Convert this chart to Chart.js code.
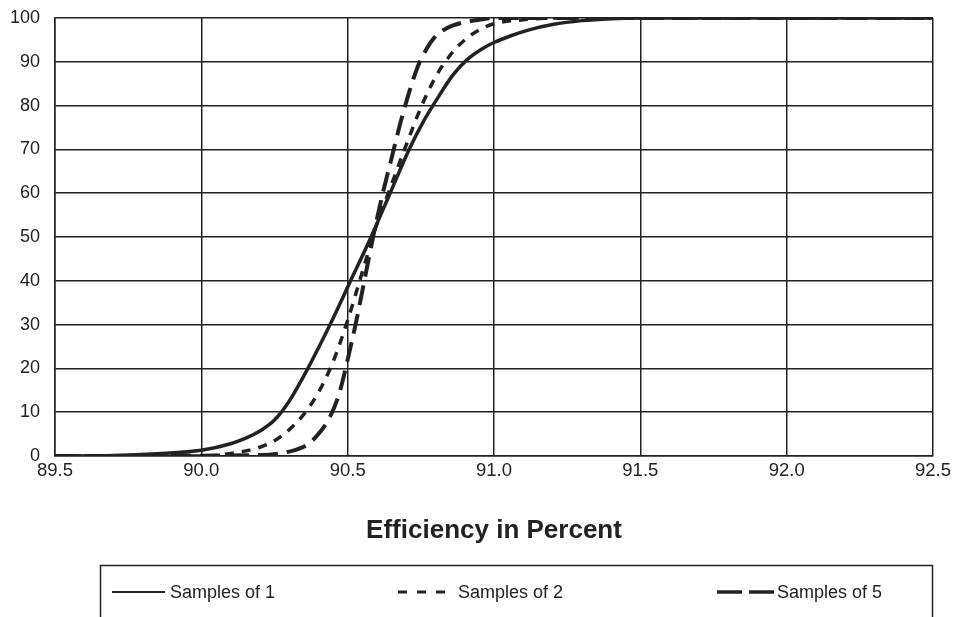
<!DOCTYPE html>
<html>
<head>
<meta charset="utf-8">
<script src="https://cdn.jsdelivr.net/npm/chart.js@4.4.0/dist/chart.umd.min.js"></script>
<style>
  html, body { margin: 0; padding: 0; background: #fff; }
  #wrap { width: 955px; height: 617px; }
</style>
</head>
<body>
<div id="wrap"><canvas id="chart-efficiency" width="955" height="617"></canvas></div>
<script>
const seriesNames = ['Samples of 1', 'Samples of 2', 'Samples of 5'];

// cumulative percent vs efficiency
const samples1X = [89.5, 89.7, 89.85, 90.0, 90.1, 90.15, 90.2, 90.25, 90.3, 90.36, 90.44, 90.51, 90.58, 90.645, 90.71, 90.76, 90.81, 90.86, 90.91, 90.96, 91.0, 91.06, 91.12, 91.2, 91.3, 91.4, 91.5, 92.5];
const samples1Y = [0, 0.1, 0.5, 1.3, 2.8, 4, 5.7, 8.2, 12.5, 19.5, 30, 40, 50, 60, 70, 76.5, 82, 87, 90.6, 93, 94.4, 96, 97.3, 98.5, 99.4, 99.85, 100, 100];

const samples2X = [89.5, 90.0, 90.1, 90.2, 90.25, 90.3, 90.35, 90.4, 90.45, 90.5, 90.55, 90.6, 90.65, 90.7, 90.75, 90.8, 90.85, 90.9, 90.95, 91.0, 91.1, 91.2, 92.5];
const samples2Y = [0, 0, 0.6, 2, 3.5, 6, 9.5, 14.5, 21.5, 31, 42, 53, 62, 71, 79.5, 86.5, 91.5, 95, 97.3, 98.7, 99.6, 100, 100];

const samples5X = [89.5, 90.2, 90.3, 90.36, 90.4, 90.44, 90.47, 90.5, 90.53, 90.56, 90.59, 90.62, 90.65, 90.68, 90.71, 90.74, 90.77, 90.8, 90.84, 90.89, 90.95, 91.0, 92.5];
const samples5Y = [0, 0.2, 1, 2.5, 5, 9, 14, 22, 31, 41, 51, 60, 68, 76, 83, 89, 93, 95.8, 97.7, 98.9, 99.6, 100, 100];

const xTickLabels = ['89.5', '90.0', '90.5', '91.0', '91.5', '92.0', '92.5'];
const yTickLabels = ['0', '10', '20', '30', '40', '50', '60', '70', '80', '90', '100'];

const ink = '#222222';
const chartDashes = [[], [9, 8], [20, 9]];
const chartWidths = [3.5, 3.5, 4];
const legendDashes = [[], [9, 10], [25, 7]];
const legendWidths = [2, 3, 3.5];

function toPoints(xs, ys) {
    return xs.map((x, i) => ({ x: x, y: ys[i] }));
}

const legendBox = {
    id: 'legendBox',
    afterDraw(chart) {
        const ctx = chart.ctx;
        ctx.save();
        ctx.strokeStyle = ink;
        ctx.lineWidth = 1.5;
        ctx.strokeRect(100.5, 565.5, 832, 90);

        const spots = [[112, 165, 170], [398, 447, 458], [717, 774, 777]];
        chart.data.datasets.forEach((ds, i) => {
            const [x0, x1, tx] = spots[i];
            ctx.beginPath();
            ctx.setLineDash(legendDashes[i]);
            ctx.lineWidth = legendWidths[i];
            ctx.strokeStyle = ink;
            ctx.moveTo(x0, 592);
            ctx.lineTo(x1, 592);
            ctx.stroke();
            ctx.setLineDash([]);
            ctx.fillStyle = ink;
            ctx.font = '18px "Liberation Sans", Arial, sans-serif';
            ctx.textBaseline = 'middle';
            ctx.textAlign = 'left';
            ctx.fillText(ds.label, tx, 593);
        });
        ctx.restore();
    }
};

const datasets = [
    toPoints(samples1X, samples1Y),
    toPoints(samples2X, samples2Y),
    toPoints(samples5X, samples5Y)
].map((points, i) => ({
    label: seriesNames[i],
    data: points,
    borderColor: ink,
    borderWidth: chartWidths[i],
    borderDash: chartDashes[i],
    pointRadius: 0,
    fill: false,
    cubicInterpolationMode: 'monotone'
}));

new Chart(document.getElementById('chart-efficiency'), {
    type: 'line',
    data: { datasets: datasets },
    options: {
        responsive: false,
        animation: false,
        devicePixelRatio: 1,
        layout: { autoPadding: false, padding: { left: 0, top: 18, right: 22, bottom: 61 } },
        plugins: {
            legend: { display: false },
            tooltip: { enabled: false }
        },
        scales: {
            x: {
                type: 'linear',
                min: 89.5,
                max: 92.5,
                afterFit: (scale) => {
                    scale.height = 100;
                    scale.paddingLeft = 0;
                    scale.paddingRight = 0;
                },
                ticks: {
                    stepSize: 0.5,
                    padding: 4,
                    color: ink,
                    font: { family: '"Liberation Sans", Arial, sans-serif', size: 18.5 },
                    maxRotation: 0,
                    callback: (value, index) => xTickLabels[index]
                },
                grid: { color: ink, lineWidth: 1.5, drawTicks: false },
                border: { color: ink, width: 1.5 },
                title: {
                    display: true,
                    text: 'Efficiency in Percent',
                    color: ink,
                    font: { family: '"Liberation Sans", Arial, sans-serif', size: 26, weight: 'bold' },
                    padding: { top: 0, bottom: 10 }
                }
            },
            y: {
                min: 0,
                max: 100,
                afterFit: (scale) => {
                    scale.width = 55;
                    scale.paddingTop = 0;
                    scale.paddingBottom = 0;
                },
                ticks: {
                    stepSize: 10,
                    padding: 15,
                    color: ink,
                    font: { family: '"Liberation Sans", Arial, sans-serif', size: 18 },
                    callback: (value, index) => yTickLabels[index]
                },
                grid: { color: ink, lineWidth: 1.5, drawTicks: false },
                border: { color: ink, width: 1.5 }
            }
        }
    },
    plugins: [legendBox]
});
</script>
</body>
</html>
